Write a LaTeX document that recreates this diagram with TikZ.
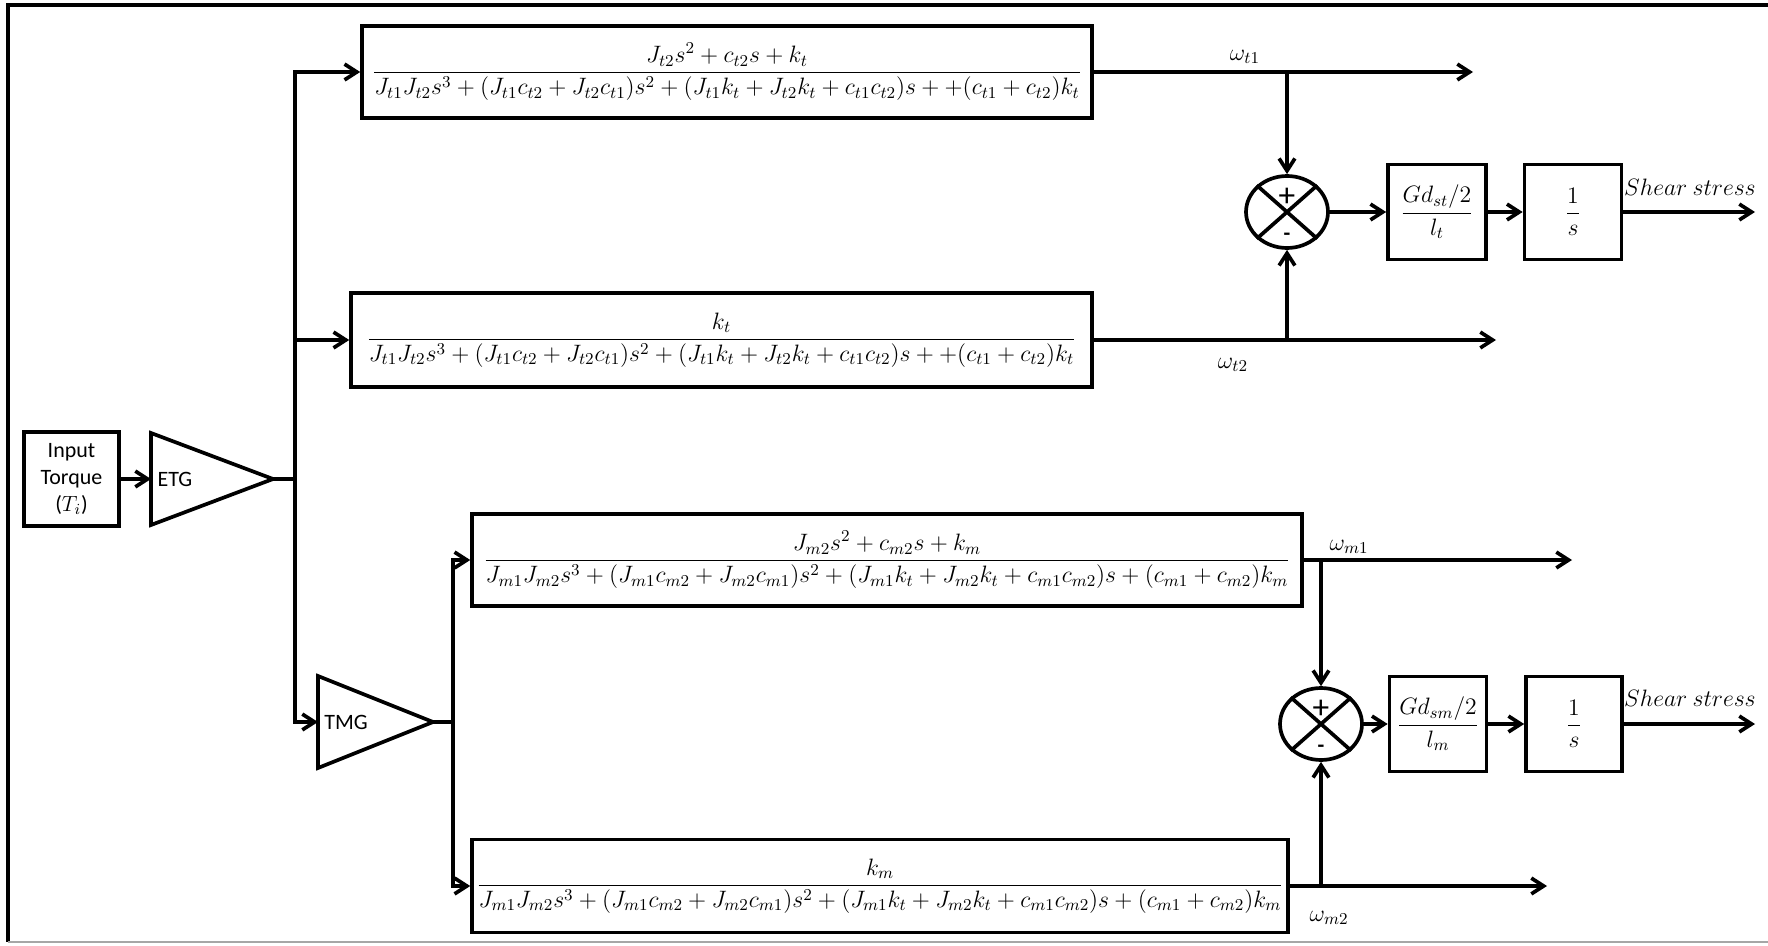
\documentclass[tikz,border=0pt]{standalone}
\usepackage{fix-cm}
\usepackage{amsmath}
\usepackage{fontspec}
\setmainfont{Carlito}
\usetikzlibrary{arrows.meta,shapes.geometric}

\newcommand{\mathsz}{\fontsize{13.5}{16}\selectfont}
\newcommand{\txtsz}{\fontsize{12.5}{15.4}\selectfont}
\newcommand{\dent}{J_{t1}J_{t2}s^3 + (J_{t1}c_{t2} + J_{t2}c_{t1})s^2 + (J_{t1}k_t + J_{t2}k_t + c_{t1}c_{t2})s + +(c_{t1} + c_{t2})k_t}
\newcommand{\denm}{J_{m1}J_{m2}s^3 + (J_{m1}c_{m2} + J_{m2}c_{m1})s^2 + (J_{m1}k_t + J_{m2}k_t + c_{m1}c_{m2})s + (c_{m1} + c_{m2})k_m}

\tikzset{
  blk/.style={draw, line width=2.1pt, inner sep=0pt, font=\mathsz},
  sumnode/.style={ellipse, draw, line width=2.1pt, minimum width=1.64cm,
    minimum height=1.44cm, inner sep=0pt},
  wire/.style={line width=2.1pt},
  sig/.style={line width=2.1pt, -{Straight Barb[length=7pt,width=9pt]}},
  lbl/.style={font=\mathsz, inner sep=0pt},
}

\begin{document}
\begin{tikzpicture}[x=0.02cm, y=-0.02cm]
\useasboundingbox (0,0) rectangle (1768,946);

% Frame
\draw[line width=2.1pt] (1768,5) -- (8,5) -- (8,942);
\draw[gray!70, line width=1.2pt] (8,942) -- (1768,942);

% Input and gains
\node[blk, font=\txtsz, align=center, minimum width=1.9cm, minimum height=1.88cm]
  (inp) at (71.5,479) {Input\\Torque\\($T_i$)};
\draw[line width=2.1pt] (151,433) -- (273,479) -- (151,525) -- cycle;
\coordinate (etgin) at (151,479);
\coordinate (etgtip) at (273,479);
\node[font=\txtsz, inner sep=0pt] (etg) at (175,479) {ETG};
\draw[line width=2.1pt] (318,676) -- (433,722) -- (318,768) -- cycle;
\coordinate (tmgin) at (318,722);
\coordinate (tmgtip) at (433,722);
\node[font=\txtsz, inner sep=0pt] (tmg) at (346,722) {TMG};

% Transfer functions
\node[blk, minimum width=14.6cm, minimum height=1.84cm] (tft1) at (727,72)
  {$\dfrac{J_{t2}s^2 + c_{t2}s + k_t}{\dent}$};
\node[blk, minimum width=14.82cm, minimum height=1.88cm] (tft2) at (721.5,340)
  {$\dfrac{k_t}{\dent}$};
\node[blk, minimum width=16.6cm, minimum height=1.84cm] (tfm1) at (887,560)
  {$\dfrac{J_{m2}s^2 + c_{m2}s + k_m}{\denm}$};
\node[blk, minimum width=16.32cm, minimum height=1.86cm] (tfm2) at (880,886)
  {$\dfrac{k_m}{\denm}$};

% Summing junctions
\node[sumnode] (sum1) at (1287,212) {};
\node[sumnode] (sum2) at (1321,724) {};
\foreach \s in {sum1,sum2} {
  \draw[wire] (\s.north west) -- (\s.south east) (\s.north east) -- (\s.south west);
  \node[font=\fontsize{19}{20}\selectfont, inner sep=0pt] (\s p)
    at ([yshift=0.3cm]\s.center) {+};
  \node[font=\txtsz\bfseries, inner sep=0pt] (\s m) at ([yshift=-0.5cm]\s.center) {-};
}

% Shear blocks
\node[blk, minimum width=1.96cm, minimum height=1.9cm] (gst) at (1437,212)
  {$\dfrac{Gd_{st}/2}{l_t}$};
\node[blk, minimum width=1.94cm, minimum height=1.9cm] (int1) at (1573,212)
  {$\dfrac{1}{s}$};
\node[blk, minimum width=1.94cm, minimum height=1.9cm] (gsm) at (1438,724)
  {$\dfrac{Gd_{sm}/2}{l_m}$};
\node[blk, minimum width=1.92cm, minimum height=1.9cm] (int2) at (1574,724)
  {$\dfrac{1}{s}$};

% Connectors
\draw[sig] (inp.east) -- (etgin);
\coordinate (bus1) at (295,479);
\draw[wire] (etgtip) -- (bus1);
\draw[sig] (bus1) |- (tft1.west);
\draw[sig] (bus1) |- (tft2.west);
\draw[sig] (bus1) |- (tmgin);
\coordinate (bus2) at (453,722);
\draw[wire] (tmgtip) -- (bus2);
\draw[sig] (bus2) |- (tfm1.west);
\draw[sig] (bus2) |- (tfm2.west);

\coordinate (tap1) at (1287,72);
\coordinate (wt1) at (1473,72);
\draw[sig] (tft1.east) -- (wt1);
\draw[sig] (tap1) -- (sum1.north);
\coordinate (tap2) at (1287,340);
\coordinate (wt2) at (1496,340);
\draw[sig] (tft2.east) -- (wt2);
\draw[sig] (tap2) -- (sum1.south);
\coordinate (out1) at (1755,212);
\draw[sig] (sum1.east) -- (gst.west);
\draw[sig] (gst.east) -- (int1.west);
\draw[sig] (int1.east) -- (out1);

\coordinate (tap3) at (1321,560);
\coordinate (wm1) at (1572,560);
\draw[sig] (tfm1.east) -- (wm1);
\draw[sig] (tap3) -- (sum2.north);
\coordinate (tap4) at (1321,886);
\coordinate (wm2) at (1547,886);
\draw[sig] (tfm2.east) -- (wm2);
\draw[sig] (tap4) -- (sum2.south);
\coordinate (out2) at (1755,724);
\draw[sig] (sum2.east) -- (gsm.west);
\draw[sig] (gsm.east) -- (int2.west);
\draw[sig] (int2.east) -- (out2);

% Labels
\node[lbl] (lwt1) at (1245,57) {$\omega_{t1}$};
\node[lbl] (lwt2) at (1233,365) {$\omega_{t2}$};
\node[lbl] (lwm1) at (1349,547) {$\omega_{m1}$};
\node[lbl] (lwm2) at (1329,918) {$\omega_{m2}$};
\node[lbl] (ss1) at (1690,187) {$Shear\ stress$};
\node[lbl] (ss2) at (1690,698) {$Shear\ stress$};

\end{tikzpicture}
\end{document}
